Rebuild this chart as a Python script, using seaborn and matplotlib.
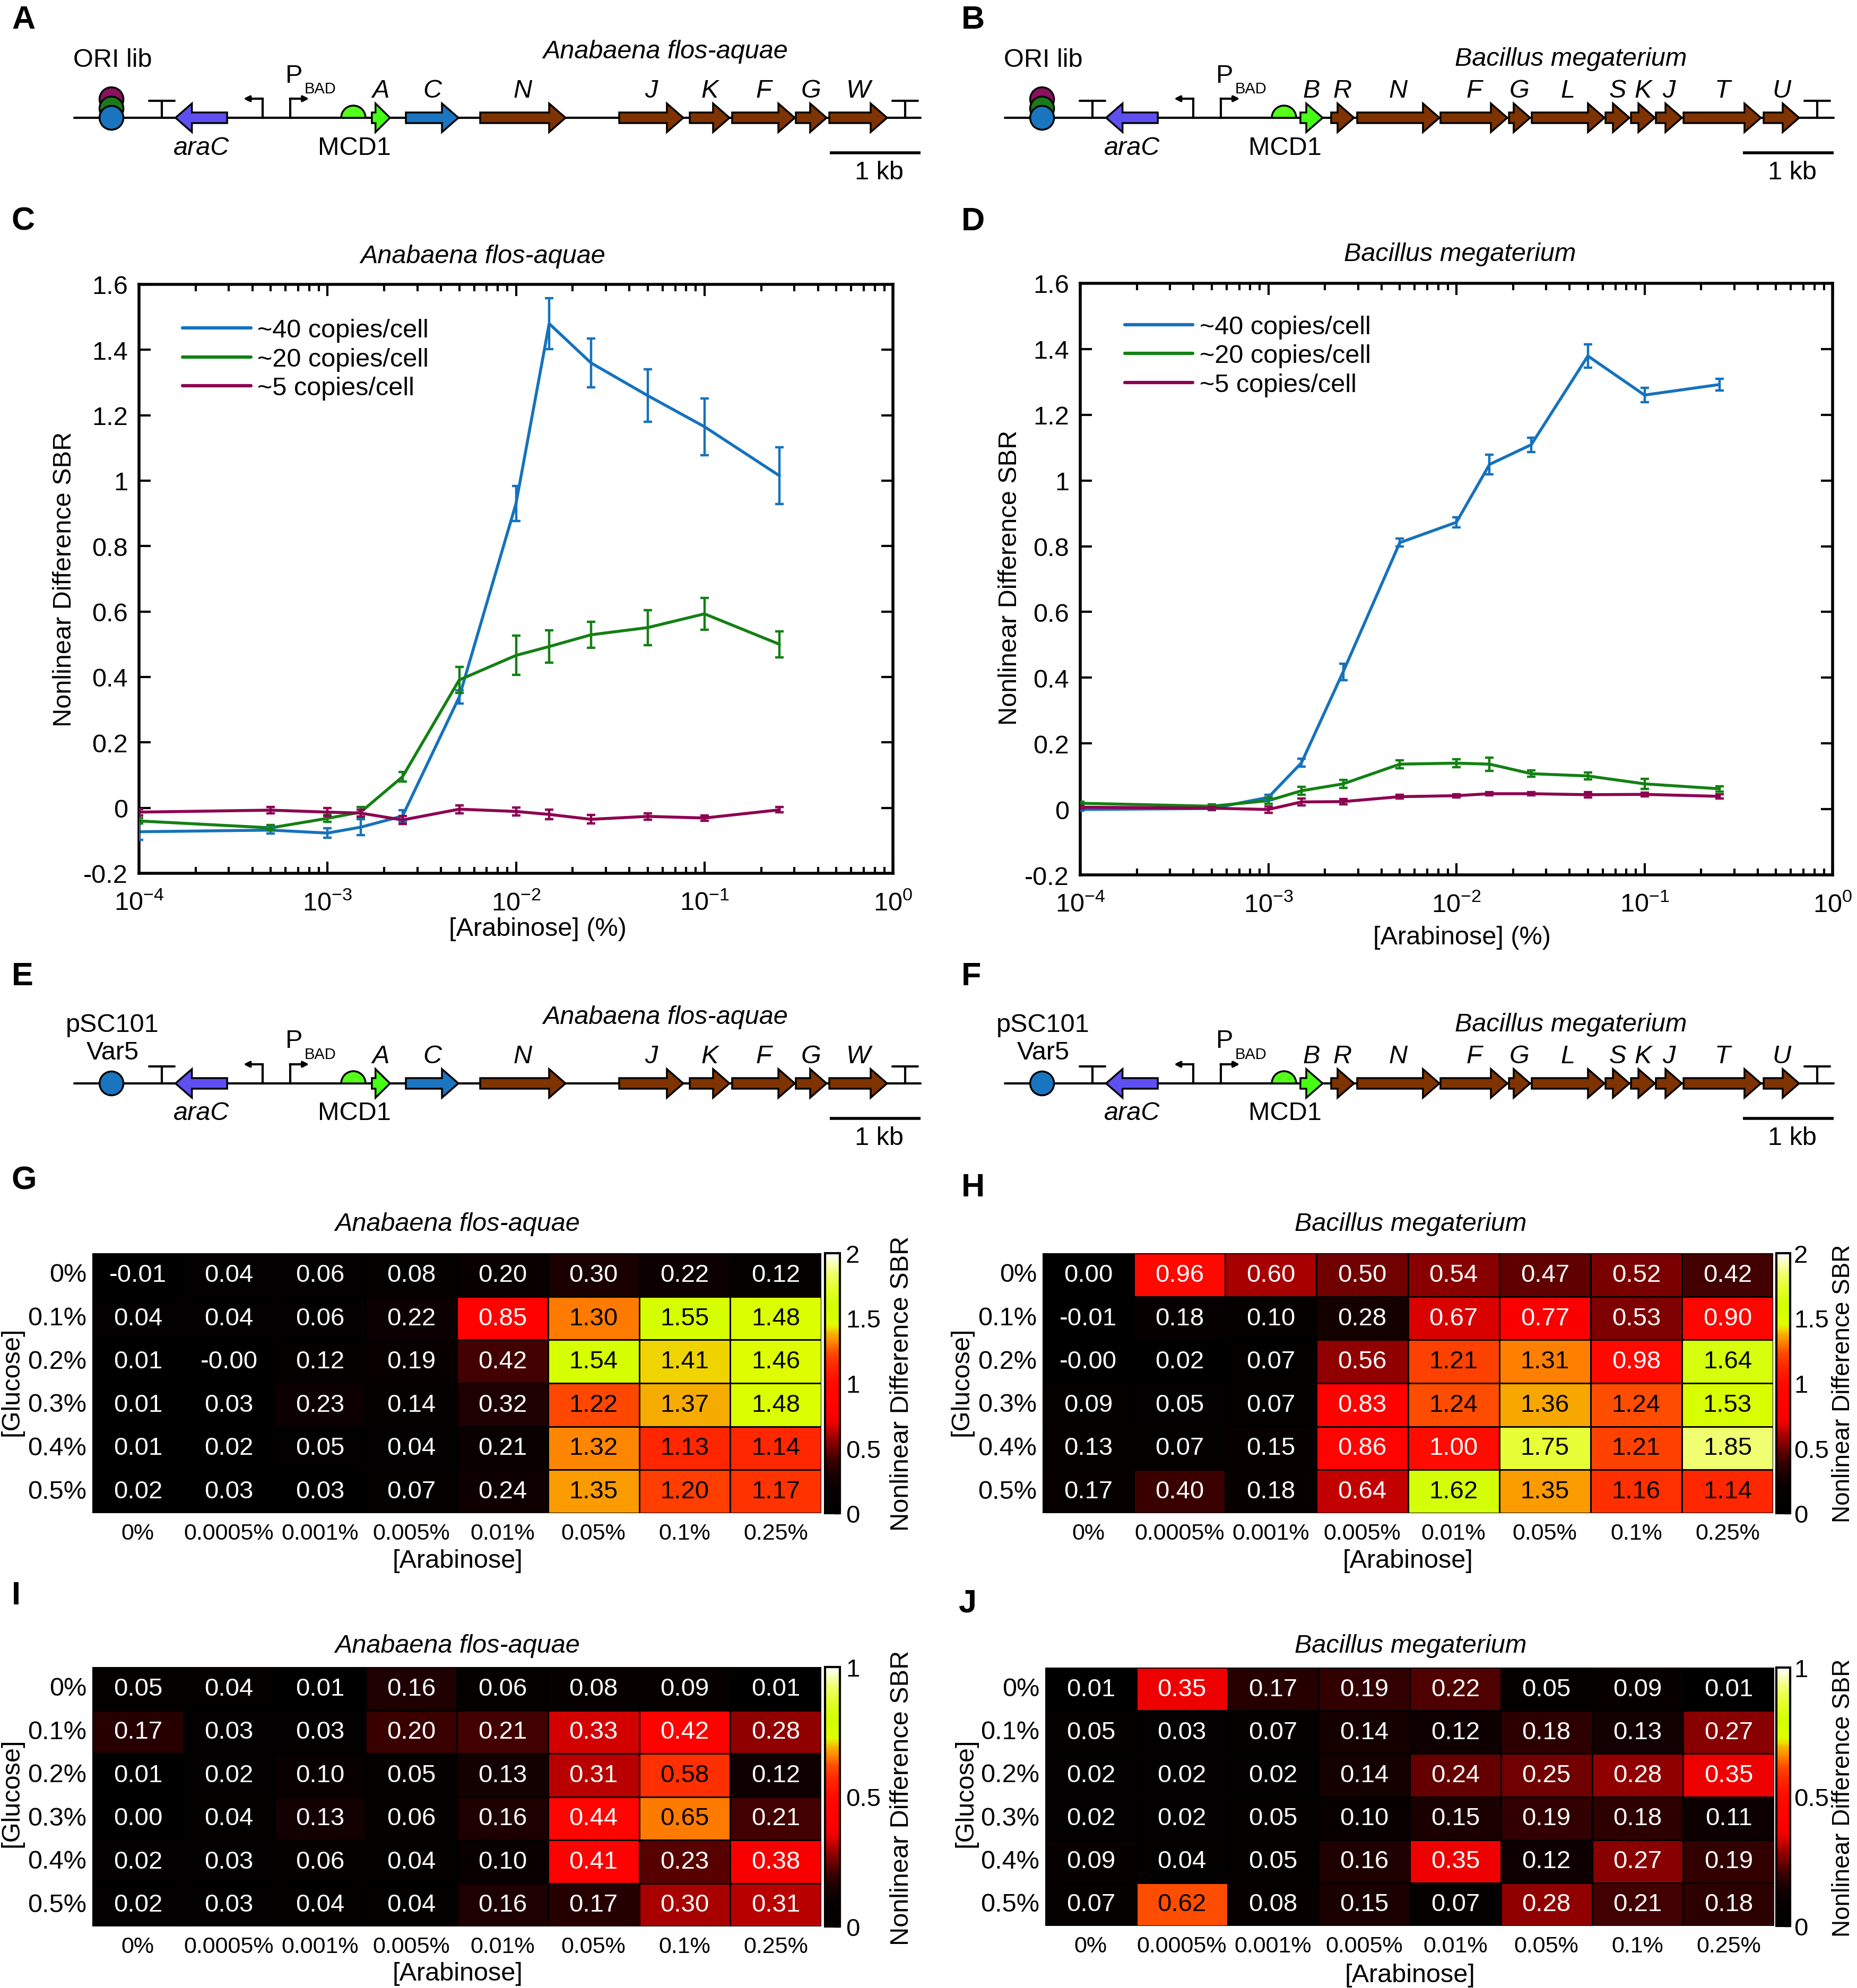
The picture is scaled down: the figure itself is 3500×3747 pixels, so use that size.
import numpy as np
import pandas as pd
import matplotlib
matplotlib.use("Agg")
import matplotlib.pyplot as plt
import seaborn as sns
from matplotlib.colors import LinearSegmentedColormap
from matplotlib.patches import Polygon, Circle, Wedge
from matplotlib.ticker import LogLocator, NullFormatter, FuncFormatter

FIG_W, FIG_H = 3500, 3748  # output pixels at dpi 100
FS = 35

# ---------------- construct maps (A, B, E, F), positions in kb ----------------
KB_PX = 171  # length of the 1 kb scale bar in pixels
ORI_KB = 0.41
TERM1_KB = 0.965
ARAC_KB = (1.115, 1.685)
PROMOTER_KB = (2.075, 2.378)
MCD1_KB = 3.076

ANA_GENES = ["A", "C", "N", "J", "K", "F", "G", "W"]
ANA_GENE_START = [3.28, 3.655, 4.474, 6.006, 6.784, 7.251, 7.953, 8.322]
ANA_GENE_END = [3.48, 4.234, 5.415, 6.713, 7.222, 7.942, 8.292, 8.959]
ANA_GENE_KIND = ["structural", "gvpC", "acc", "acc", "acc", "acc", "acc", "acc"]
ANA_TERM2_KB = 9.158
ANA_END_KB = 9.33

BAC_GENES = ["B", "R", "N", "F", "G", "L", "S", "K", "J", "T", "U"]
BAC_GENE_START = [3.257, 3.596, 3.883, 4.801, 5.556, 5.807, 6.620, 6.901, 7.175, 7.480, 8.363]
BAC_GENE_END = [3.503, 3.848, 4.789, 5.538, 5.789, 6.608, 6.883, 7.164, 7.462, 8.333, 8.754]
BAC_GENE_KIND = ["structural"] + ["acc"] * 10
BAC_TERM2_KB = 8.953
BAC_END_KB = 9.135

GENE_COLORS = {"structural": "#45FF14", "gvpC": "#1B75C0", "acc": "#7E3300"}
ARAC_COLOR = "#5E50F0"
RBS_COLOR = "#55FF1A"
ORI_LIB_COLORS = ["#8C1060", "#1A7A1A", "#1A75C0"]
ORI_SINGLE_COLORS = ["#1A75C0"]

# ---------------- SBR vs arabinose (C, D) ----------------
ARABINOSE = [1e-4, 5e-4, 1e-3, 1.5e-3, 2.5e-3, 5e-3, 1e-2, 1.5e-2, 2.5e-2, 5e-2, 1e-1, 2.5e-1]
COPY_LABELS = ["~40 copies/cell", "~20 copies/cell", "~5 copies/cell"]
COPY_COLORS = ["#1572BD", "#138013", "#8C0050"]

ANA_40 = [-0.073, -0.068, -0.077, -0.059, -0.025, 0.339, 0.930, 1.480, 1.360, 1.260, 1.165, 1.015]
ANA_40_ERR = [0.025, 0.010, 0.015, 0.025, 0.018, 0.020, 0.053, 0.078, 0.075, 0.080, 0.087, 0.087]
ANA_20 = [-0.040, -0.061, -0.032, -0.013, 0.095, 0.391, 0.466, 0.493, 0.529, 0.551, 0.593, 0.500]
ANA_20_ERR = [0.008, 0.008, 0.010, 0.015, 0.015, 0.040, 0.060, 0.050, 0.040, 0.054, 0.048, 0.040]
ANA_5 = [-0.013, -0.007, -0.013, -0.016, -0.037, -0.004, -0.011, -0.020, -0.035, -0.026, -0.031, -0.006]
ANA_5_ERR = [0.010, 0.010, 0.012, 0.010, 0.012, 0.012, 0.012, 0.014, 0.013, 0.010, 0.008, 0.008]

BAC_40 = [-0.001, 0.002, 0.036, 0.141, 0.418, 0.811, 0.873, 1.049, 1.109, 1.379, 1.260, 1.292]
BAC_40_ERR = [0.004, 0.005, 0.008, 0.012, 0.025, 0.012, 0.015, 0.030, 0.022, 0.035, 0.022, 0.018]
BAC_20 = [0.018, 0.009, 0.026, 0.056, 0.077, 0.137, 0.140, 0.137, 0.108, 0.101, 0.077, 0.062]
BAC_20_ERR = [0.005, 0.005, 0.010, 0.012, 0.012, 0.012, 0.012, 0.020, 0.010, 0.010, 0.015, 0.008]
BAC_5 = [0.006, 0.003, -0.001, 0.022, 0.023, 0.038, 0.041, 0.047, 0.047, 0.044, 0.045, 0.039]
BAC_5_ERR = [0.004, 0.004, 0.010, 0.010, 0.008, 0.006, 0.005, 0.005, 0.005, 0.008, 0.006, 0.006]

# ---------------- glucose x arabinose heatmaps (G-J) ----------------
GLUCOSE_LABELS = ["0%", "0.1%", "0.2%", "0.3%", "0.4%", "0.5%"]
ARA_LABELS = ["0%", "0.0005%", "0.001%", "0.005%", "0.01%", "0.05%", "0.1%", "0.25%"]

ANA_HI = [
    [-0.01, 0.04, 0.06, 0.08, 0.20, 0.30, 0.22, 0.12],
    [0.04, 0.04, 0.06, 0.22, 0.85, 1.30, 1.55, 1.48],
    [0.01, -0.004, 0.12, 0.19, 0.42, 1.54, 1.41, 1.46],
    [0.01, 0.03, 0.23, 0.14, 0.32, 1.22, 1.37, 1.48],
    [0.01, 0.02, 0.05, 0.04, 0.21, 1.32, 1.13, 1.14],
    [0.02, 0.03, 0.03, 0.07, 0.24, 1.35, 1.20, 1.17],
]
BAC_HI = [
    [0.00, 0.96, 0.60, 0.50, 0.54, 0.47, 0.52, 0.42],
    [-0.01, 0.18, 0.10, 0.28, 0.67, 0.77, 0.53, 0.90],
    [-0.004, 0.02, 0.07, 0.56, 1.21, 1.31, 0.98, 1.64],
    [0.09, 0.05, 0.07, 0.83, 1.24, 1.36, 1.24, 1.53],
    [0.13, 0.07, 0.15, 0.86, 1.00, 1.75, 1.21, 1.85],
    [0.17, 0.40, 0.18, 0.64, 1.62, 1.35, 1.16, 1.14],
]
ANA_LO = [
    [0.05, 0.04, 0.01, 0.16, 0.06, 0.08, 0.09, 0.01],
    [0.17, 0.03, 0.03, 0.20, 0.21, 0.33, 0.42, 0.28],
    [0.01, 0.02, 0.10, 0.05, 0.13, 0.31, 0.58, 0.12],
    [0.00, 0.04, 0.13, 0.06, 0.16, 0.44, 0.65, 0.21],
    [0.02, 0.03, 0.06, 0.04, 0.10, 0.41, 0.23, 0.38],
    [0.02, 0.03, 0.04, 0.04, 0.16, 0.17, 0.30, 0.31],
]
BAC_LO = [
    [0.01, 0.35, 0.17, 0.19, 0.22, 0.05, 0.09, 0.01],
    [0.05, 0.03, 0.07, 0.14, 0.12, 0.18, 0.13, 0.27],
    [0.02, 0.02, 0.02, 0.14, 0.24, 0.25, 0.28, 0.35],
    [0.02, 0.02, 0.05, 0.10, 0.15, 0.19, 0.18, 0.11],
    [0.09, 0.04, 0.05, 0.16, 0.35, 0.12, 0.27, 0.19],
    [0.07, 0.62, 0.08, 0.15, 0.07, 0.28, 0.21, 0.18],
]

SBR_CMAP = LinearSegmentedColormap.from_list("sbr", [
    (0.00, "#000000"), (0.10, "#080000"), (0.15, "#1a0000"), (0.20, "#3a0000"),
    (0.25, "#700000"), (0.30, "#aa0000"), (0.35, "#f00000"), (0.40, "#ff0000"),
    (0.50, "#ff0a00"), (0.57, "#ff2800"), (0.62, "#ff4d00"), (0.66, "#ff8800"),
    (0.69, "#f5b000"), (0.71, "#eedd00"), (0.73, "#ddff00"), (0.80, "#d2ff00"),
    (0.875, "#e6ff33"), (0.93, "#f0ff77"), (1.00, "#ffffff"),
])


def px_axes(fig, left, top, right, bottom):
    """Add an axes given its box in output pixels (origin top-left)."""
    return fig.add_axes([left / FIG_W, 1 - bottom / FIG_H,
                         (right - left) / FIG_W, (bottom - top) / FIG_H])


def gene_arrow(ax, x_from, x_to, y, color):
    d = np.sign(x_to - x_from)
    head = min(31, 0.8 * abs(x_to - x_from))
    hb, hh = 10, 27
    xh = x_to - d * head
    pts = [(x_from, y - hb), (xh, y - hb), (xh, y - hh), (x_to, y),
           (xh, y + hh), (xh, y + hb), (x_from, y + hb)]
    ax.add_patch(Polygon(pts, closed=True, facecolor=color, edgecolor="black",
                         lw=2.5, joinstyle="miter", zorder=3))


def draw_construct(ax, x0, y0, genes, starts, ends, kinds, term2_kb, end_kb,
                   ori_colors, ori_label, title, title_xy):
    """Draw one plasmid construct map on the pixel overlay axes."""
    X = lambda kb: x0 + kb * KB_PX
    ax.plot([X(0), X(end_kb)], [y0, y0], color="black", lw=3, zorder=1)

    ox = X(ORI_KB)
    n = len(ori_colors)
    for i, c in enumerate(ori_colors):
        ax.add_patch(Circle((ox, y0 - 17.5 * (n - 1 - i)), 22.5, facecolor=c,
                            edgecolor="black", lw=2.5, zorder=4 + i))
    for k, line in enumerate(ori_label):
        ax.text(ox + 2, y0 - 110 + 52 * k, line, fontsize=FS, ha="center", va="center")

    for t in (TERM1_KB, term2_kb):
        ax.plot([X(t), X(t)], [y0, y0 - 32], color="black", lw=3, zorder=2)
        ax.plot([X(t) - 24, X(t) + 24], [y0 - 32, y0 - 32], color="black", lw=3, zorder=2)

    gene_arrow(ax, X(ARAC_KB[1]), X(ARAC_KB[0]), y0, ARAC_COLOR)
    ax.text(X(sum(ARAC_KB) / 2), y0 + 56, "araC", style="italic", fontsize=FS,
            ha="center", va="center")

    for xp, dx in ((X(PROMOTER_KB[0]), -36), (X(PROMOTER_KB[1]), 36)):
        ax.plot([xp, xp], [y0, y0 - 36], color="black", lw=3,
                solid_capstyle="projecting", zorder=2)
        ax.annotate("", xy=(xp + dx, y0 - 36), xytext=(xp, y0 - 36),
                    arrowprops=dict(arrowstyle="-|>", color="black", lw=3,
                                    mutation_scale=16, shrinkA=0, shrinkB=0))
    xp = X(PROMOTER_KB[1])
    ax.text(xp + 8, y0 - 80, "P", fontsize=FS, ha="center", va="center")
    ax.text(xp + 57, y0 - 55, "BAD", fontsize=21, ha="center", va="center")

    xm = X(MCD1_KB)
    ax.add_patch(Wedge((xm, y0), 23, 180, 360, facecolor=RBS_COLOR,
                       edgecolor="black", lw=2.5, zorder=3))
    ax.text(xm + 2, y0 + 56, "MCD1", fontsize=FS, ha="center", va="center")

    for g, s, e, k in zip(genes, starts, ends, kinds):
        gene_arrow(ax, X(s), X(e), y0, GENE_COLORS[k])
        ax.text((X(s) + X(e)) / 2, y0 - 51, g, style="italic", fontsize=FS,
                ha="center", va="center")

    xe = X(end_kb)
    ax.plot([xe - KB_PX, xe], [y0 + 66, y0 + 66], color="black", lw=4,
            solid_capstyle="butt")
    ax.text(xe - KB_PX / 2 + 7, y0 + 103, "1 kb", fontsize=FS, ha="center", va="center")
    ax.text(*title_xy, title, style="italic", fontsize=FS, ha="center", va="center")


def draw_line_panel(fig, box, values, errors, legend_anchor):
    """SBR vs arabinose for three copy numbers."""
    ax = px_axes(fig, *box)
    frames = [pd.DataFrame({"arabinose": ARABINOSE, "sbr": v, "err": e, "copies": lab})
              for lab, v, e in zip(COPY_LABELS, values, errors)]
    df = pd.concat(frames, ignore_index=True)
    sns.lineplot(data=df, x="arabinose", y="sbr", hue="copies", hue_order=COPY_LABELS,
                 palette=COPY_COLORS, linewidth=4, errorbar=None, ax=ax)
    for lab, color in zip(COPY_LABELS, COPY_COLORS):
        sub = df[df["copies"] == lab]
        ax.errorbar(sub["arabinose"], sub["sbr"], yerr=sub["err"], fmt="none",
                    ecolor=color, elinewidth=3.2, capsize=6, capthick=3.2, zorder=3)
    ax.set_xscale("log")
    ax.set_xlim(1e-4, 1)
    ax.set_ylim(-0.2, 1.6)
    ax.set_yticks(np.round(np.arange(-0.2, 1.61, 0.2), 1))
    ax.yaxis.set_major_formatter(FuncFormatter(lambda v, p: f"{v:g}"))
    ax.xaxis.set_major_locator(LogLocator(base=10, numticks=10))
    ax.xaxis.set_minor_locator(LogLocator(base=10, subs=np.arange(2, 10), numticks=50))
    ax.xaxis.set_minor_formatter(NullFormatter())
    ax.tick_params(which="both", direction="in", top=True, right=True, width=3)
    ax.tick_params(which="major", length=16, labelsize=FS)
    ax.tick_params(which="minor", length=9)
    ax.tick_params(axis="y", pad=15)
    ax.tick_params(axis="x", pad=24)
    for sp in ax.spines.values():
        sp.set_linewidth(4)
        sp.set_color("black")
    ax.set_xlabel("")
    ax.set_ylabel("")
    sns.move_legend(ax, "upper left", bbox_to_anchor=legend_anchor, frameon=False,
                    title=None, fontsize=FS, handlelength=2.65, handletextpad=0.25,
                    labelspacing=0.19, borderpad=0, borderaxespad=0)
    for line in ax.get_legend().get_lines():
        line.set_linewidth(4.5)
    return ax


def draw_heatmap(fig, box, cbox, values, vmax, ticks, cbar_pad=8):
    ax = px_axes(fig, *box)
    cax = px_axes(fig, *cbox)
    df = pd.DataFrame(values, index=GLUCOSE_LABELS, columns=ARA_LABELS)
    sns.heatmap(df, ax=ax, cbar_ax=cax, cmap=SBR_CMAP, vmin=0, vmax=vmax,
                annot=True, fmt=".2f", annot_kws={"fontsize": 34},
                linewidths=2, linecolor="black",
                xticklabels=ARA_LABELS, yticklabels=GLUCOSE_LABELS)
    for txt, v in zip(ax.texts, np.ravel(values)):
        txt.set_color("black" if v > 0.53 * vmax else "white")
    ax.tick_params(axis="both", length=0)
    ax.tick_params(axis="x", labelsize=31, pad=13)
    ax.tick_params(axis="y", labelsize=FS, pad=8)
    plt.setp(ax.get_xticklabels(), rotation=0)
    plt.setp(ax.get_yticklabels(), rotation=0)
    ax.set_xlabel("")
    ax.set_ylabel("")
    cbar = ax.collections[0].colorbar
    cbar.set_ticks(ticks)
    cbar.ax.yaxis.set_major_formatter(FuncFormatter(lambda v, p: f"{v:g}"))
    cbar.ax.tick_params(direction="in", length=8, width=2.5, labelsize=34, pad=cbar_pad)
    cbar.outline.set_linewidth(3)
    cbar.outline.set_edgecolor("black")
    return ax


def main():
    sns.set_theme(style="ticks", rc={"axes.edgecolor": "black", "xtick.color": "black",
                                     "ytick.color": "black", "text.color": "black",
                                     "axes.labelcolor": "black"})
    plt.rcParams["font.family"] = ["Liberation Sans", "DejaVu Sans"]
    plt.rcParams["mathtext.fontset"] = "custom"
    plt.rcParams["mathtext.rm"] = "Liberation Sans"
    plt.rcParams["mathtext.it"] = "Liberation Sans:italic"
    plt.rcParams["mathtext.bf"] = "Liberation Sans:bold"
    plt.rcParams["mathtext.default"] = "regular"

    fig = plt.figure(figsize=(FIG_W / 100, FIG_H / 100), dpi=100)

    # data panels
    draw_line_panel(fig, (262, 537, 1683, 1647), [ANA_40, ANA_20, ANA_5],
                    [ANA_40_ERR, ANA_20_ERR, ANA_5_ERR], (0.058, 0.942))
    draw_line_panel(fig, (2036, 535, 3454, 1650), [BAC_40, BAC_20, BAC_5],
                    [BAC_40_ERR, BAC_20_ERR, BAC_5_ERR], (0.059, 0.946))
    draw_heatmap(fig, (174, 2363, 1548, 2853), (1555, 2363, 1583, 2853), ANA_HI, 2, [0, 0.5, 1, 1.5, 2])
    draw_heatmap(fig, (1965, 2363, 3342, 2853), (3348, 2363, 3374, 2853), BAC_HI, 2,
                 [0, 0.5, 1, 1.5, 2], cbar_pad=5)
    draw_heatmap(fig, (174, 3143, 1548, 3632), (1555, 3143, 1583, 3632), ANA_LO, 1, [0, 0.5, 1])
    draw_heatmap(fig, (1970, 3144, 3344, 3631), (3348, 3144, 3374, 3631), BAC_LO, 1,
                 [0, 0.5, 1], cbar_pad=5)

    # pixel overlay for construct maps and free text
    ov = fig.add_axes([0, 0, 1, 1], zorder=10)
    ov.set_xlim(0, FIG_W)
    ov.set_ylim(FIG_H, 0)
    ov.axis("off")

    for dy, ori_colors, ori_label in ((0, ORI_LIB_COLORS, ["ORI lib"]),
                                      (1820, ORI_SINGLE_COLORS, ["pSC101", "Var5"])):
        draw_construct(ov, 140, 223 + dy, ANA_GENES, ANA_GENE_START, ANA_GENE_END,
                       ANA_GENE_KIND, ANA_TERM2_KB, ANA_END_KB, ori_colors, ori_label,
                       "Anabaena flos-aquae", (1254, 98 + dy))
        draw_construct(ov, 1894, 223 + dy, BAC_GENES, BAC_GENE_START, BAC_GENE_END,
                       BAC_GENE_KIND, BAC_TERM2_KB, BAC_END_KB, ori_colors, ori_label,
                       "Bacillus megaterium", (2961, 112 + dy))

    # line panel titles / labels
    ov.text(910, 484, "Anabaena flos-aquae", style="italic", fontsize=FS, ha="center", va="center")
    ov.text(2752, 480, "Bacillus megaterium", style="italic", fontsize=FS, ha="center", va="center")
    ov.text(1013, 1752, "[Arabinose] (%)", fontsize=FS, ha="center", va="center")
    ov.text(2755, 1768, "[Arabinose] (%)", fontsize=FS, ha="center", va="center")
    ov.text(122, 1092, "Nonlinear Difference SBR", fontsize=FS, rotation=90, ha="center", va="center")
    ov.text(1903, 1089, "Nonlinear Difference SBR", fontsize=FS, rotation=90, ha="center", va="center")

    # heatmap titles / labels
    for (tx, ty, title), (xl, yl), (gx, gy), (cx, cy, cfs) in (
        ((862, 2308, "Anabaena flos-aquae"), (862, 2943), (22, 2604), (1700, 2608, FS)),
        ((2659, 2308, "Bacillus megaterium"), (2653, 2943), (1812, 2604), (3474, 2608, 33)),
        ((862, 3103, "Anabaena flos-aquae"), (862, 3721), (22, 3379), (1700, 3389, FS)),
        ((2659, 3103, "Bacillus megaterium"), (2657, 3724), (1820, 3379), (3474, 3389, 33)),
    ):
        ov.text(tx, ty, title, style="italic", fontsize=FS, ha="center", va="center")
        ov.text(xl, yl, "[Arabinose]", fontsize=FS, ha="center", va="center")
        ov.text(gx, gy, "[Glucose]", fontsize=FS, rotation=90, ha="center", va="center")
        ov.text(cx, cy, "Nonlinear Difference SBR", fontsize=cfs, rotation=90,
                ha="center", va="center")

    for letter, x, y in (("A", 22, 38), ("B", 1812, 38), ("C", 22, 418), ("D", 1812, 418),
                         ("E", 22, 1842), ("F", 1812, 1842), ("G", 22, 2226),
                         ("H", 1812, 2240), ("I", 22, 3009), ("J", 1806, 3023)):
        ov.text(x, y, letter, fontsize=44, fontweight="bold", ha="left", va="center")

    fig.savefig("out.png", dpi=100)


if __name__ == "__main__":
    main()
